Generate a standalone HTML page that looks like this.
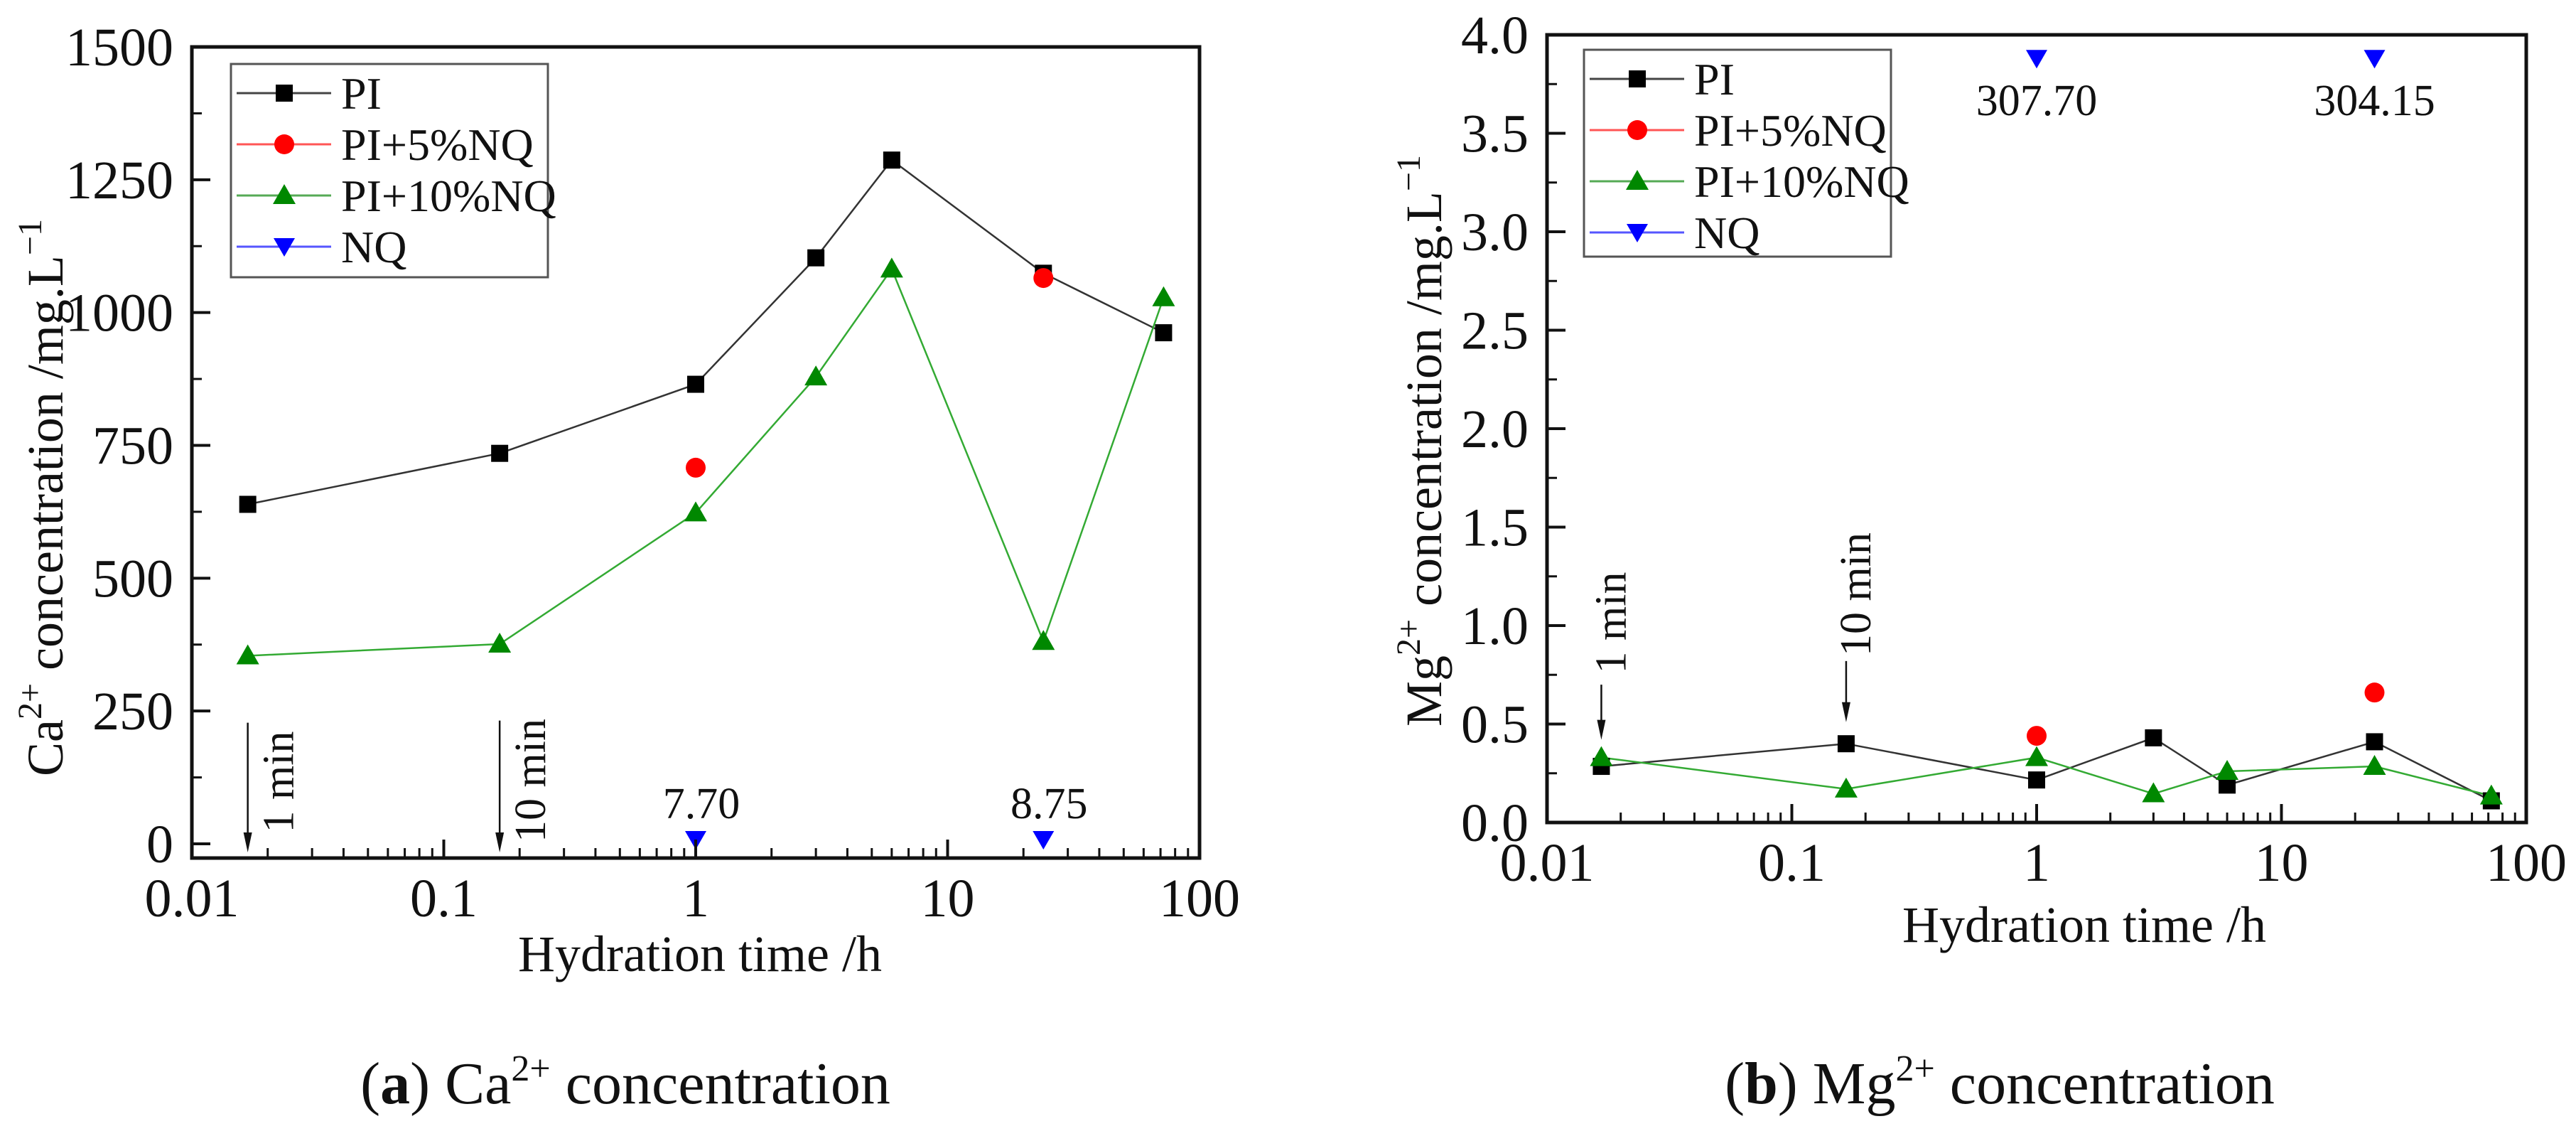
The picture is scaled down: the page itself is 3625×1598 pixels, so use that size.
<!DOCTYPE html>
<html><head><meta charset="utf-8">
<style>
html,body{margin:0;padding:0;background:#fff;}
svg, svg text{font-family:"Liberation Serif","Times New Roman","DejaVu Serif",serif;}
</style></head>
<body>
<svg id="fig" width="3625" height="1593" viewBox="0 0 3625 1593" xmlns="http://www.w3.org/2000/svg" font-family="'Liberation Serif', serif"></svg>
<script>
// ---- data ----
const hoursX = [1/60, 1/6, 1, 3, 6, 24, 72];
const caPI = [639, 735, 865, 1103, 1287, 1074, 962];
const caPI5x = [1, 24];
const caPI5 = [708, 1065];
const caPI10 = [354, 376, 623, 879, 1082, 381, 1028];
const caNQx = [1, 24];
const caNQ = [8, 8];
const caNQLabels = ["7.70", "8.75"];
const mgPI = [0.285, 0.40, 0.216, 0.43, 0.19, 0.41, 0.11];
const mgPI5x = [1, 24];
const mgPI5 = [0.44, 0.66];
const mgPI10 = [0.33, 0.17, 0.33, 0.146, 0.26, 0.285, 0.135];
const mgNQx = [1, 24];
const mgNQ = [3.88, 3.88];
const mgNQLabels = ["307.70", "304.15"];
const xTickVals = [0.01, 0.1, 1, 10, 100];
const xTickLabels = ["0.01", "0.1", "1", "10", "100"];
const caYTicks = [0, 250, 500, 750, 1000, 1250, 1500];
const mgYTicks = [0, 0.5, 1, 1.5, 2, 2.5, 3, 3.5, 4];
const mgYLabels = ["0.0","0.5","1.0","1.5","2.0","2.5","3.0","3.5","4.0"];
const legendNames = ["PI", "PI+5%NQ", "PI+10%NQ", "NQ"];

const NS = "http://www.w3.org/2000/svg";
const FONT = "'Liberation Serif', 'Times New Roman', serif";
const svg = document.getElementById('fig');
function mk(tag, attrs, parent) {
  const e = document.createElementNS(NS, tag);
  for (const k in attrs) e.setAttribute(k, attrs[k]);
  if (tag === 'text') e.setAttribute('font-family', FONT);
  (parent || svg).appendChild(e);
  return e;
}

function marker(g, type, cx, cy) {
  let e;
  if (type === 'sq') e = mk('rect', {x: cx-12, y: cy-12, width: 24, height: 24, fill: '#000'}, g);
  else if (type === 'ci') e = mk('circle', {cx: cx, cy: cy, r: 14, fill: '#f00'}, g);
  else if (type === 'up') e = mk('polygon', {points: `${cx},${cy-16} ${cx+16},${cy+12} ${cx-16},${cy+12}`, fill: '#080'}, g);
  else e = mk('polygon', {points: `${cx-15},${cy-12} ${cx+15},${cy-12} ${cx},${cy+14}`, fill: '#00f'}, g);
  return e;
}

function panel(cfg) {
  const g = mk('g', {});
  
  
  const L = cfg.L, R = cfg.R, T = cfg.T, B = cfg.B;
  const xs = v => L + (Math.log10(v) + 2) / 4 * (R - L);
  const ys = v => cfg.y0 - (v - 0) / cfg.ymax * (cfg.y0 - cfg.yTop);

  const series = [
    {x: hoursX, y: cfg.pi, c: '#333', n: 'series-pi'},
    {x: hoursX, y: cfg.pi10, c: '#3a3', n: 'series-pi-10nq'},
  ];
  series.forEach(s => {
    const pts = s.x.map((xv, i) => xs(xv) + ',' + ys(s.y[i])).join(' ');
    const pl = mk('polyline', {points: pts, fill: 'none', stroke: s.c, 'stroke-width': 2.5}, g);
    
    
  });
  cfg.pi.forEach((v, i) => { const m = marker(g, 'sq', xs(hoursX[i]), ys(v));
    
     });
  cfg.pi5.forEach((v, i) => { const m = marker(g, 'ci', xs(cfg.pi5x[i]), ys(v));
    
     });
  cfg.pi10.forEach((v, i) => { const m = marker(g, 'up', xs(hoursX[i]), ys(v));
    
     });
  cfg.nq.forEach((v, i) => { const m = marker(g, 'dn', xs(cfg.nqx[i]), ys(v));
    
    
    const t = mk('text', {x: xs(cfg.nqx[i]) + cfg.nqLabDx, y: ys(v) + cfg.nqLabDy, 'font-size': 62, 'text-anchor': 'middle', fill: '#111'}, g);
    t.textContent = cfg.nqLabels[i];
    
     });

  const fr = mk('rect', {x: L, y: T, width: R - L, height: B - T, fill: 'none', stroke: '#111', 'stroke-width': 5}, g);
  
  

  for (let d = -2; d < 2; d++) {
    for (let k = 2; k <= 9; k++) {
      const x = xs(k * Math.pow(10, d));
      mk('line', {x1: x, y1: B, x2: x, y2: B - 14, stroke: '#111', 'stroke-width': 3}, g);
    }
  }
  xTickVals.forEach((v, i) => {
    const x = xs(v);
    mk('line', {x1: x, y1: B, x2: x, y2: B - 26, stroke: '#111', 'stroke-width': 4}, g);
    const t = mk('text', {x: x, y: B + 82, 'font-size': 76, 'text-anchor': 'middle', fill: '#111'}, g);
    t.textContent = xTickLabels[i];
    
    
  });
  cfg.yTicks.forEach((v, i) => {
    const y = ys(v);
    mk('line', {x1: L, y1: y, x2: L + 26, y2: y, stroke: '#111', 'stroke-width': 4}, g);
    if (i < cfg.yTicks.length - 1) {
      const ym = ys((v + cfg.yTicks[i + 1]) / 2);
      mk('line', {x1: L, y1: ym, x2: L + 14, y2: ym, stroke: '#111', 'stroke-width': 3}, g);
    }
    const t = mk('text', {x: L - 26, y: y + 26, 'font-size': 76, 'text-anchor': 'end', fill: '#111'}, g);
    t.textContent = cfg.yLabels[i];
    
    
  });

  cfg.arrows.forEach(a => {
    const x = xs(a.x);
    mk('line', {x1: x, y1: ys(a.y1), x2: x, y2: ys(a.y2) - 20, stroke: '#111', 'stroke-width': 2.5}, g);
    mk('polygon', {points: `${x-6},${ys(a.y2)-28} ${x+6},${ys(a.y2)-28} ${x},${ys(a.y2)}`, fill: '#111'}, g);
    const t = mk('text', {x: 0, y: 0, 'font-size': 62, 'text-anchor': 'middle', fill: '#111',
      transform: `translate(${x + a.tdx},${a.ty}) rotate(-90)`}, g);
    t.textContent = a.label;
    
    
  });

  const lg = mk('g', {}, g);
  
  
  mk('rect', {x: cfg.lg.x, y: cfg.lg.y, width: cfg.lg.w, height: cfg.lg.h, fill: '#fff', stroke: '#555', 'stroke-width': 3}, lg);
  const cols = ['#444', '#f55', '#5a5', '#55f'];
  const types = ['sq', 'ci', 'up', 'dn'];
  legendNames.forEach((n, i) => {
    const y = cfg.lg.y + 41 + i * 72;
    const e = mk('g', {}, lg);
    
    
    mk('line', {x1: cfg.lg.x + 8, y1: y, x2: cfg.lg.x + 141, y2: y, stroke: cols[i], 'stroke-width': 3}, e);
    marker(e, types[i], cfg.lg.x + 75, y);
    const t = mk('text', {x: cfg.lg.x + 155, y: y + 22, 'font-size': 64, fill: '#111'}, e);
    t.textContent = n;
  });

  const xt = mk('text', {x: cfg.xtX, y: cfg.xtY, 'font-size': 72, 'text-anchor': 'middle', fill: '#111'}, g);
  xt.textContent = 'Hydration time /h';
  
  
  const yt = mk('text', {x: 0, y: 0, 'font-size': 72, 'text-anchor': 'middle', fill: '#111',
    transform: `translate(${cfg.ytX},${cfg.ytY}) rotate(-90)`}, g);
  
  
  yt.innerHTML = cfg.ion + '<tspan font-size="48" dy="-30">2+</tspan><tspan dy="30"> concentration /mg.L</tspan><tspan font-size="48" dy="-30">−1</tspan>';

  const cp = mk('text', {x: cfg.capX, y: cfg.capY, 'font-size': 84, 'text-anchor': 'middle', fill: '#111'}, g);
  
  
  cp.innerHTML = '(<tspan font-weight="bold">' + cfg.letter + '</tspan>) ' + cfg.ion + '<tspan font-size="52" dy="-32">2+</tspan><tspan dy="32"> concentration</tspan>';
}

panel({name: 'panel-a-calcium', L: 270, R: 1688, T: 66, B: 1207, y0: 1187, yTop: 66, ymax: 1500,
  pi: caPI, pi5: caPI5, pi5x: caPI5x, pi10: caPI10, nq: caNQ, nqx: caNQx, nqLabels: caNQLabels,
  nqLabDx: 8, nqLabDy: -30, yTicks: caYTicks, yLabels: caYTicks.map(String),
  arrows: [{x: 1/60, y1: 228, y2: -16, label: '1 min', tdx: 64, ty: 1100},
           {x: 1/6, y1: 232, y2: -16, label: '10 min', tdx: 64, ty: 1098}],
  lg: {x: 325, y: 90, w: 446, h: 300},
  xtX: 985, xtY: 1366, ytX: 88, ytY: 700, ion: 'Ca', letter: 'a', capX: 880, capY: 1552});

panel({name: 'panel-b-magnesium', L: 2177, R: 3555, T: 49, B: 1157, y0: 1157, yTop: 49, ymax: 4,
  pi: mgPI, pi5: mgPI5, pi5x: mgPI5x, pi10: mgPI10, nq: mgNQ, nqx: mgNQx, nqLabels: mgNQLabels,
  nqLabDx: 0, nqLabDy: 80, yTicks: mgYTicks, yLabels: mgYLabels,
  arrows: [{x: 1/60, y1: 0.70, y2: 0.42, label: '1 min', tdx: 34, ty: 876},
           {x: 1/6, y1: 0.82, y2: 0.51, label: '10 min', tdx: 34, ty: 836}],
  lg: {x: 2229, y: 70, w: 432, h: 291},
  xtX: 2933, xtY: 1325, ytX: 2028, ytY: 620, ion: 'Mg', letter: 'b', capX: 2814, capY: 1552});
</script>
</body></html>
